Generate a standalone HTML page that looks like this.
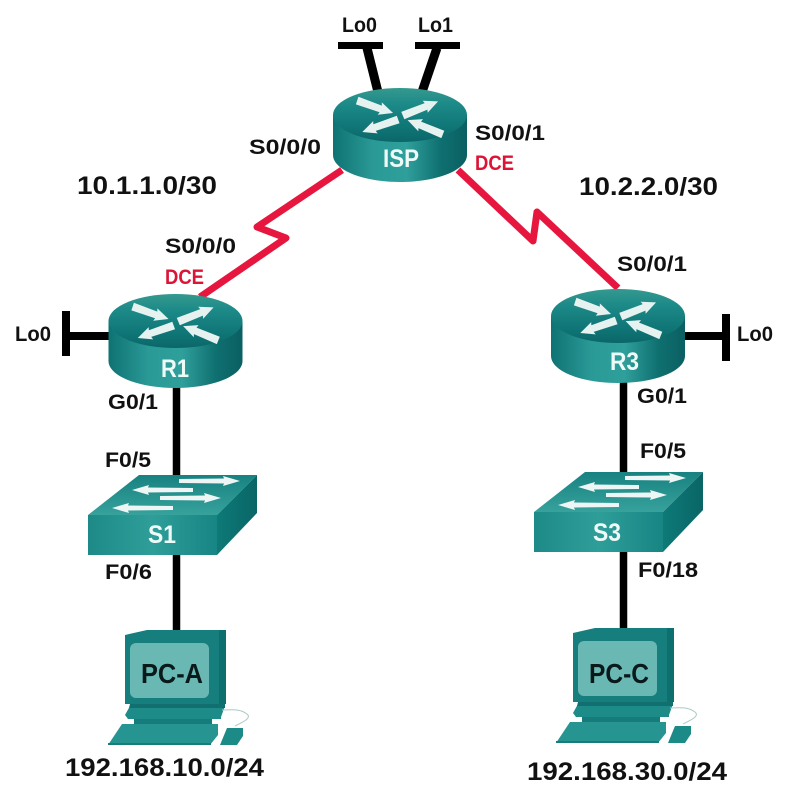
<!DOCTYPE html>
<html><head><meta charset="utf-8"><style>
html,body{margin:0;padding:0;background:#fff}
svg{display:block}
text{font-family:"Liberation Sans",sans-serif;font-weight:bold;fill:#111}
.l{font-size:21px}
.n{font-size:25px}
.r{fill:#dc1436;font-size:21px}
.w{fill:#eefaf7;font-size:25px}
.p{font-size:28px;fill:#0a1a1a}
</style></head><body>
<svg width="792" height="797" viewBox="0 0 792 797" xmlns="http://www.w3.org/2000/svg">
<defs>
<linearGradient id="side" x1="0" x2="1" y1="0" y2="0">
<stop offset="0" stop-color="#0f7273"/><stop offset=".3" stop-color="#2a9a97"/><stop offset=".55" stop-color="#2f9f9b"/><stop offset=".8" stop-color="#0f7070"/><stop offset="1" stop-color="#0a5f62"/>
</linearGradient>
<linearGradient id="top" x1="0" x2="0" y1="0" y2="1">
<stop offset="0" stop-color="#35998f"/><stop offset=".3" stop-color="#1c8a88"/><stop offset=".75" stop-color="#0f7475"/><stop offset="1" stop-color="#0b6769"/>
</linearGradient>
<linearGradient id="front" x1="0" x2="1" y1="0" y2="0">
<stop offset="0" stop-color="#1d8a87"/><stop offset=".5" stop-color="#2f9e99"/><stop offset="1" stop-color="#178583"/>
</linearGradient>
<linearGradient id="stop" x1="0" x2="0" y1="0" y2="1">
<stop offset="0" stop-color="#178280"/><stop offset="1" stop-color="#37a19c"/>
</linearGradient>
<linearGradient id="rside" x1="0" x2="1" y1="0" y2="0">
<stop offset="0" stop-color="#0d7a78"/><stop offset="1" stop-color="#0a6566"/>
</linearGradient>
<path id="ra" d="M0 -4.500L25 -3.500L24 -6.500L38 0L24 6.500L25 3.500L0 3.500Z" fill="#e6f2f0"/>
<path id="sa" d="M0 -2L45 -2.500L44 -5L61 0L44 5L45 2.500L0 2Z" fill="#edf6f4"/>
<g id="router">
<path d="M-67 -4V36C-67 51-37 63 0 63S67 51 67 36V-4Z" fill="url(#side)"/>
<ellipse cx="0" cy="-4" rx="67" ry="27" fill="url(#top)"/>
<use href="#ra" transform="translate(-43 -18) rotate(18.400)"/>
<use href="#ra" transform="translate(3 -3) rotate(-22.600)"/>
<use href="#ra" transform="translate(-2 0) rotate(160)"/>
<use href="#ra" transform="translate(43 15) rotate(201.500)"/>
</g>
<g id="switch">
<path d="M0 40L51 0H169L129 40Z" fill="url(#stop)"/>
<path d="M129 40L169 0V38L129 80Z" fill="url(#rside)"/>
<rect x="0" y="40" width="129" height="40" fill="url(#front)"/>
<use href="#sa" transform="translate(91 6)"/>
<use href="#sa" transform="translate(105 15) rotate(180)"/>
<use href="#sa" transform="translate(72 23)"/>
<use href="#sa" transform="translate(85 33) rotate(180)"/>
</g>
<g id="pc">
<path d="M0 5L22 0H101V74H0Z" fill="#167f7d"/>
<path d="M94 0H101V74H94Z" fill="#0e6f6f"/>
<rect x="5" y="13" width="79" height="55" rx="6" fill="#69b8b4"/>
<path d="M5 76H100L96 87V89H3L0 85Z" fill="#1d8b88"/>
<path d="M5 74H100V78H4Z" fill="#126f70"/>
<path d="M9 89H87V96H9Z" fill="#157c7b"/>
<path d="M-3 94H93V105L85 115H-17Z" fill="#269490"/>
<path d="M-17 113H86V115H-17Z" fill="#187c7b"/>
<path d="M95 115L102 98H118V106L112 115Z" fill="#1c8a87"/>
<path d="M110 96C118 92 127 88 122 84C114 78 105 80 97 80" fill="none" stroke="#a9c9c8" stroke-width="1"/>
</g>
</defs>

<!-- connectors -->
<g stroke="#000" fill="none">
<path d="M338 45.500H383M415 45.500H460" stroke-width="7"/>
<path d="M367 48L378 92M437 48L422 92" stroke-width="9"/>
<path d="M66 311V356" stroke-width="8"/>
<path d="M66 336H110" stroke-width="8"/>
<path d="M726 314V361" stroke-width="8"/>
<path d="M682 336H726" stroke-width="8"/>
<path d="M176.500 385V480M176.500 550V632" stroke-width="7.500"/>
<path d="M623.500 380V478M623.500 548V630" stroke-width="7.500"/>
</g>
<g stroke="#e6163f" stroke-width="7" fill="none" stroke-linejoin="round">
<path d="M342 170L257 227 286 238 200 297"/>
<path d="M458 170L533 241 537 212 618 288"/>
</g>

<!-- devices -->
<use href="#router" x="400" y="119"/>
<use href="#router" x="175.500" y="325"/>
<use href="#router" x="618" y="320"/>
<use href="#switch" x="88" y="475"/>
<use href="#switch" x="534" y="472"/>
<use href="#pc" x="125" y="630"/>
<use href="#pc" x="573" y="628"/>

<!-- device labels -->
<text class="w" x="383" y="167" textLength="36" lengthAdjust="spacingAndGlyphs">ISP</text>
<text class="w" x="161" y="377" textLength="28" lengthAdjust="spacingAndGlyphs">R1</text>
<text class="w" x="610" y="370" textLength="29" lengthAdjust="spacingAndGlyphs">R3</text>
<text class="w" x="148" y="543" textLength="28" lengthAdjust="spacingAndGlyphs">S1</text>
<text class="w" x="593" y="541" textLength="28" lengthAdjust="spacingAndGlyphs">S3</text>
<text class="p" x="141" y="683" textLength="62" lengthAdjust="spacingAndGlyphs">PC-A</text>
<text class="p" x="589" y="683" textLength="60" lengthAdjust="spacingAndGlyphs">PC-C</text>

<!-- port labels -->
<text class="l" x="342" y="32" textLength="35" lengthAdjust="spacingAndGlyphs">Lo0</text>
<text class="l" x="418" y="32" textLength="35" lengthAdjust="spacingAndGlyphs">Lo1</text>
<text class="l" x="249" y="154" textLength="72" lengthAdjust="spacingAndGlyphs">S0/0/0</text>
<text class="l" x="475" y="140" textLength="70" lengthAdjust="spacingAndGlyphs">S0/0/1</text>
<text class="r" x="475" y="170" textLength="39" lengthAdjust="spacingAndGlyphs">DCE</text>
<text class="n" x="77" y="194" textLength="140" lengthAdjust="spacingAndGlyphs">10.1.1.0/30</text>
<text class="n" x="579" y="195" textLength="139" lengthAdjust="spacingAndGlyphs">10.2.2.0/30</text>
<text class="l" x="165" y="253" textLength="71" lengthAdjust="spacingAndGlyphs">S0/0/0</text>
<text class="r" x="165" y="284" textLength="39" lengthAdjust="spacingAndGlyphs">DCE</text>
<text class="l" x="617" y="271" textLength="70" lengthAdjust="spacingAndGlyphs">S0/0/1</text>
<text class="l" x="15" y="341" textLength="36" lengthAdjust="spacingAndGlyphs">Lo0</text>
<text class="l" x="737" y="341" textLength="36" lengthAdjust="spacingAndGlyphs">Lo0</text>
<text class="l" x="108" y="409" textLength="50" lengthAdjust="spacingAndGlyphs">G0/1</text>
<text class="l" x="637" y="403" textLength="50" lengthAdjust="spacingAndGlyphs">G0/1</text>
<text class="l" x="105" y="467" textLength="46" lengthAdjust="spacingAndGlyphs">F0/5</text>
<text class="l" x="640" y="458" textLength="46" lengthAdjust="spacingAndGlyphs">F0/5</text>
<text class="l" x="105" y="579" textLength="47" lengthAdjust="spacingAndGlyphs">F0/6</text>
<text class="l" x="638" y="577" textLength="60" lengthAdjust="spacingAndGlyphs">F0/18</text>
<text class="n" x="65" y="776" textLength="199" lengthAdjust="spacingAndGlyphs">192.168.10.0/24</text>
<text class="n" x="527" y="780" textLength="200" lengthAdjust="spacingAndGlyphs">192.168.30.0/24</text>
</svg>
</body></html>
